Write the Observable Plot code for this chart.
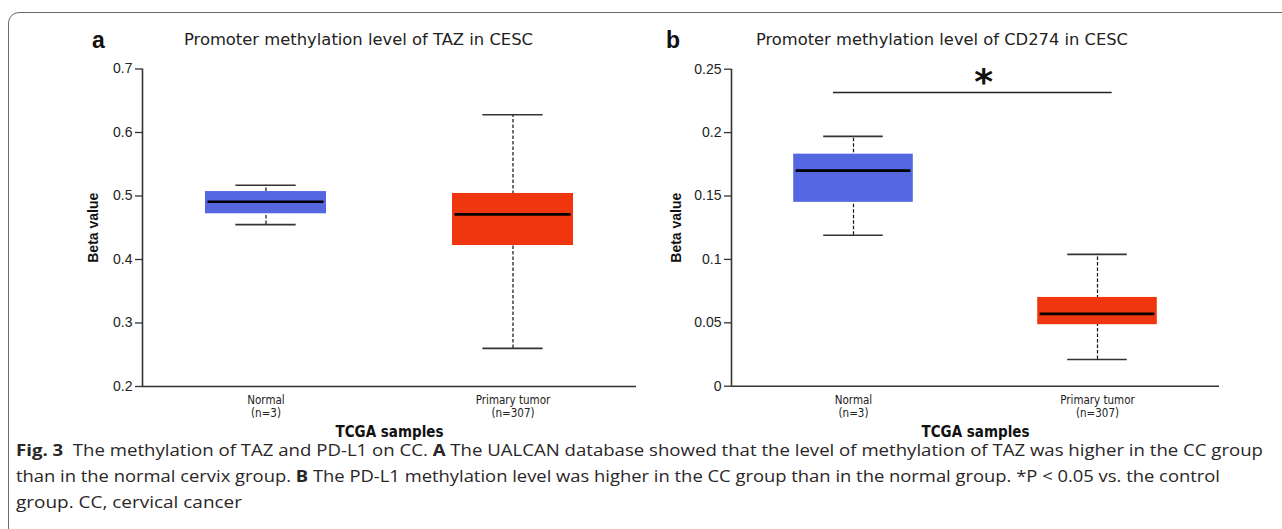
<!DOCTYPE html>
<html>
<head>
<meta charset="utf-8">
<script src="https://cdn.jsdelivr.net/npm/d3@7"></script>
<script src="https://cdn.jsdelivr.net/npm/@observablehq/plot@0.6"></script>
<style>
  html, body { margin: 0; padding: 0; background: #fff; }
  #root { position: relative; width: 1282px; height: 529px; overflow: hidden; background: #fff; }
  #frame { position: absolute; left: 8px; top: 12px; width: 1400px; height: 700px;
           border: 1.5px solid #6a6a6a; border-top-left-radius: 11px; box-sizing: border-box; }
  .plot { position: absolute; top: 0; }
  .letter { position: absolute; font-family: "Liberation Sans", Arial, sans-serif; font-weight: bold;
            font-size: 23px; color: #111; line-height: 1; }
  .title { position: absolute; font-family: "DejaVu Sans Condensed", "DejaVu Sans", sans-serif; font-stretch: condensed;
           font-size: 16px; color: #222; white-space: nowrap; line-height: 1; transform-origin: 0 0; }
  .cap { position: absolute; left: 16px; font-family: "Open Sans", sans-serif; font-size: 16px; color: #2a2627;
         white-space: nowrap; line-height: 1; transform-origin: 0 0; }
  .cap b { font-weight: bold; }
</style>
</head>
<body>
<div id="root">
  <div id="frame"></div>
  <div class="letter" style="left:92px; top:29px;">a</div>
  <div class="letter" style="left:666px; top:29px;">b</div>
  <div class="title fit" data-w="349" style="left:184px; top:32px;">Promoter methylation level of TAZ in CESC</div>
  <div class="title fit" data-w="372" style="left:756px; top:32px;">Promoter methylation level of CD274 in CESC</div>
  <div id="plotA" class="plot" style="left:0px;"></div>
  <div id="plotB" class="plot" style="left:640px;"></div>
  <div class="cap fit" data-w="1247" style="top:442px;"><b>Fig. 3</b>&nbsp; The methylation of TAZ and PD-L1 on CC. <b>A</b> The UALCAN database showed that the level of methylation of TAZ was higher in the CC group</div>
  <div class="cap fit" data-w="1204" style="top:468px;">than in the normal cervix group. <b>B</b> The PD-L1 methylation level was higher in the CC group than in the normal group. *P &lt; 0.05 vs. the control</div>
  <div class="cap fit" data-w="226" style="top:494px;">group. CC, cervical cancer</div>
</div>
<script>
// ---- data ----
const categories = ["Normal", "Primary tumor"];
const sampleSizes = ["(n=3)", "(n=307)"];
const positions = [1, 2];
const boxColors = ["#5466e0", "#f0360f"];

// Panel a: TAZ
const tazUpper  = [0.517, 0.628];
const tazQ3     = [0.507, 0.504];
const tazMedian = [0.491, 0.471];
const tazQ1     = [0.472, 0.422];
const tazLower  = [0.455, 0.260];
const tazTicks  = [0.2, 0.3, 0.4, 0.5, 0.6, 0.7];
const tazTickLabels = ["0.2", "0.3", "0.4", "0.5", "0.6", "0.7"];

// Panel b: CD274
const cdUpper  = [0.197, 0.104];
const cdQ3     = [0.183, 0.070];
const cdMedian = [0.170, 0.057];
const cdQ1     = [0.145, 0.0485];
const cdLower  = [0.119, 0.021];
const cdTicks  = [0, 0.05, 0.1, 0.15, 0.2, 0.25];
const cdTickLabels = ["0", "0.05", "0.1", "0.15", "0.2", "0.25"];

// significance annotation (panel b)
const sigBarFrom = 0.918, sigBarTo = 2.06, sigBarY = 0.2317;
const sigStarX = 1.533, sigStarY = 0.2466;

const xTitle = "TCGA samples";
const yTitle = "Beta value";

function rowsFrom(upper, q3, median, q1, lower) {
  return categories.map((c, i) => ({
    category: c, n: sampleSizes[i], pos: positions[i], color: boxColors[i],
    upper: upper[i], q3: q3[i], median: median[i], q1: q1[i], lower: lower[i]
  }));
}

const BOX = 0.245, CAP = 0.122;
const axisColor = "#333";
const condensed = "'DejaVu Sans Condensed', 'DejaVu Sans', sans-serif";

function panel(rows, yDomain, ticks, tickLabels, opts, extra) {
  const tickRows = ticks.map((t, i) => ({ t, label: tickLabels[i] }));
  return Plot.plot({
    width: opts.width, height: 440,
    marginLeft: opts.ml, marginRight: opts.mr, marginTop: opts.mt, marginBottom: opts.mb,
    x: { domain: [0.5, 2.5], axis: null },
    y: { domain: yDomain, axis: null },
    style: { background: "transparent", fontFamily: "'Liberation Sans', Arial, sans-serif", overflow: "visible" },
    marks: [
      Plot.axisY({ ticks, tickFormat: () => "", tickSize: 7, stroke: axisColor, strokeWidth: 1.3, label: null }),
      Plot.text(tickRows, { y: "t", text: "label", frameAnchor: "left", textAnchor: "end", dx: -10,
                            fontSize: 14, fill: "#222" }),
      Plot.ruleX([0.5], { y1: yDomain[0], y2: yDomain[1], stroke: axisColor, strokeWidth: 1.6 }),
      Plot.ruleY([yDomain[0]], { stroke: axisColor, strokeWidth: 1.6 }),
      // whiskers
      Plot.ruleX(rows, { x: "pos", y1: "lower", y2: "upper", stroke: "#111", strokeWidth: 1.2, strokeDasharray: "3.5,2" }),
      Plot.ruleY(rows, { y: "upper", x1: d => d.pos - CAP, x2: d => d.pos + CAP, stroke: "#333", strokeWidth: 1.6 }),
      Plot.ruleY(rows, { y: "lower", x1: d => d.pos - CAP, x2: d => d.pos + CAP, stroke: "#333", strokeWidth: 1.6 }),
      // boxes
      Plot.rect(rows, { x1: d => d.pos - BOX, x2: d => d.pos + BOX, y1: "q1", y2: "q3", fill: "color" }),
      Plot.ruleY(rows, { y: "median", x1: d => d.pos - BOX + 0.01, x2: d => d.pos + BOX - 0.01, stroke: "#000", strokeWidth: 2.6 }),
      // x tick labels
      Plot.text(rows, { x: "pos", text: d => d.category + "\n" + d.n, frameAnchor: "bottom", lineAnchor: "top",
                        dy: 9, fontSize: 11.5, lineHeight: 1.1, fill: "#222",
                        fontFamily: condensed, fontStretch: "condensed" }),
      Plot.text([xTitle], { frameAnchor: "bottom", lineAnchor: "middle", textAnchor: "middle", dy: 46, fontSize: 15,
                            fontWeight: "bold", fill: "#111", fontFamily: condensed, fontStretch: "condensed" }),
      Plot.text([yTitle], { frameAnchor: "left", textAnchor: "middle", lineAnchor: "middle", dx: opts.ylab, rotate: -90,
                            fontSize: 14, fontWeight: "bold", fill: "#111" }),
      ...extra
    ]
  });
}

const rowsA = rowsFrom(tazUpper, tazQ3, tazMedian, tazQ1, tazLower);
const rowsB = rowsFrom(cdUpper, cdQ3, cdMedian, cdQ1, cdLower);

document.getElementById("plotA").append(
  panel(rowsA, [0.2, 0.7], tazTicks, tazTickLabels,
        { width: 640, ml: 142, mr: 4, mt: 68.5, mb: 54, ylab: -49 }, [])
);
document.getElementById("plotB").append(
  panel(rowsB, [0, 0.25], cdTicks, cdTickLabels,
        { width: 642, ml: 91, mr: 63, mt: 68.7, mb: 54.3, ylab: -55 },
        [
          Plot.ruleY([sigBarY], { x1: sigBarFrom, x2: sigBarTo, stroke: "#222", strokeWidth: 1.5 }),
          Plot.text(["*"], { x: sigStarX, y: sigStarY, fontSize: 36, fontWeight: "bold", fill: "#111",
                             fontFamily: "'DejaVu Sans', sans-serif", dy: 9 })
        ])
);

// fit text widths
document.querySelectorAll(".fit").forEach(el => {
  const w = el.getBoundingClientRect().width;
  const target = +el.dataset.w;
  if (w > 0) el.style.transform = `scaleX(${target / w})`;
});
</script>
</body>
</html>
